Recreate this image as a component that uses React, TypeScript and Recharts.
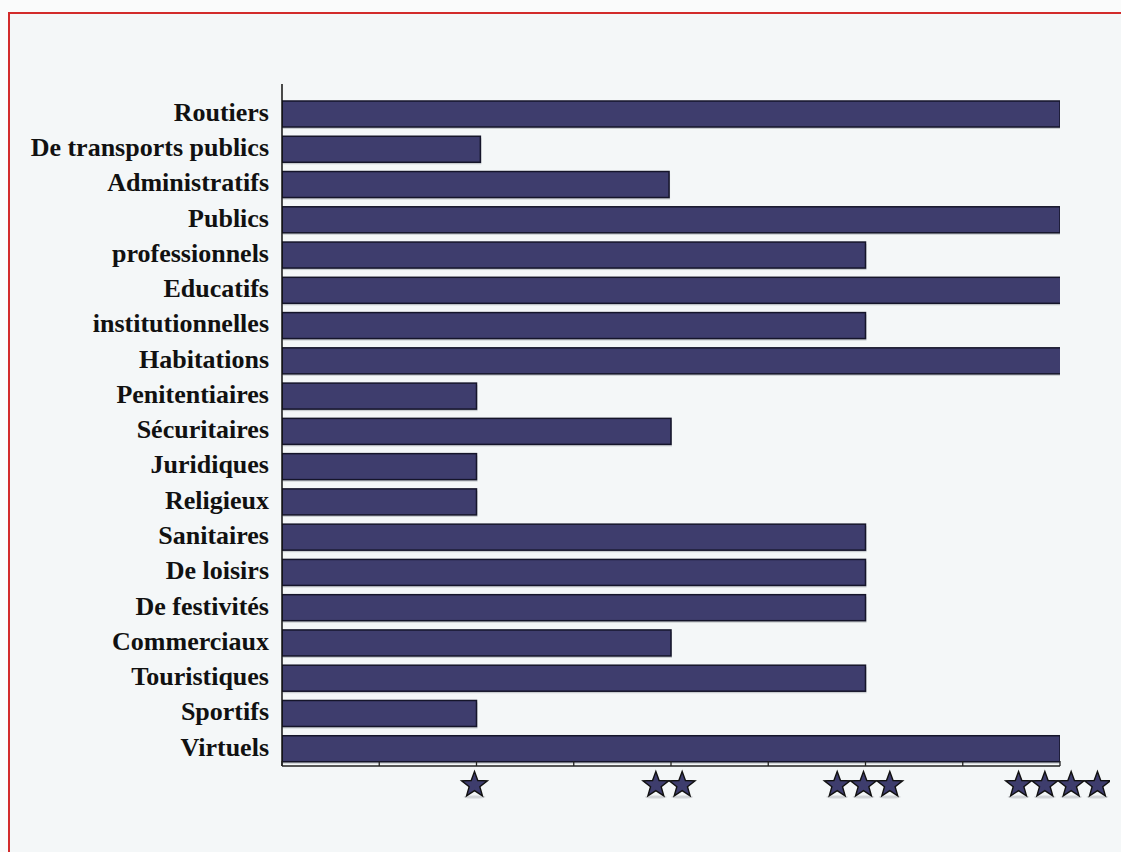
import { Bar, BarChart, XAxis, YAxis } from "recharts";

const categories = [
  "Routiers",
  "De transports publics",
  "Administratifs",
  "Publics",
  "professionnels",
  "Educatifs",
  "institutionnelles",
  "Habitations",
  "Penitentiaires",
  "Sécuritaires",
  "Juridiques",
  "Religieux",
  "Sanitaires",
  "De loisirs",
  "De festivités",
  "Commerciaux",
  "Touristiques",
  "Sportifs",
  "Virtuels",
];

const ratings = [4, 1.02, 1.99, 4, 3, 4.02, 3, 4.02, 1, 2, 1, 1, 3, 3, 3, 2, 3, 1, 4];

const xTicks = [0, 0.5, 1, 1.5, 2, 2.5, 3, 3.5, 4];
const starLabels: Record<number, number> = { 1: 1, 2: 2, 3: 3, 4: 4 };

const data = categories.map((name, i) => ({ name, value: ratings[i] }));

const BAR_FILL = "#3e3d6d";

function starPoints(cx: number, cy: number, outer: number, inner: number) {
  const pts: string[] = [];
  for (let i = 0; i < 10; i++) {
    const r = i % 2 === 0 ? outer : inner;
    const a = -Math.PI / 2 + (i * Math.PI) / 5;
    pts.push(`${(cx + r * Math.cos(a)).toFixed(2)},${(cy + r * Math.sin(a)).toFixed(2)}`);
  }
  return pts.join(" ");
}

function StarTick(props: any) {
  const { x, y, payload } = props;
  const n = starLabels[payload.value] || 0;
  const spacing = 26.3;
  const start = x - 2 - ((n - 1) * spacing) / 2;
  return (
    <g>
      <line x1={x} y1={y - 5} x2={x} y2={y} stroke="#222" strokeWidth={1.3} />
      {Array.from({ length: n }).map((_, i) => (
        <g key={i}>
          <ellipse cx={start + i * spacing} cy={y + 31} rx={11} ry={1.6} fill="#c9cccf" opacity={0.8} />
          <polygon
            points={starPoints(start + i * spacing, y + 19, 13.5, 5.6)}
            fill={BAR_FILL}
            stroke="#111"
            strokeWidth={1.4}
            strokeLinejoin="miter"
          />
        </g>
      ))}
    </g>
  );
}

function ShadowBar(props: any) {
  const { x, y, width, height } = props;
  if (width <= 0) return null;
  return (
    <g>
      <rect x={x + 1} y={y + 2} width={width} height={height} fill="#9ea3a8" opacity={0.5} />
      <rect x={x} y={y} width={width} height={height} fill={BAR_FILL} stroke="#15152a" strokeWidth={1.5} />
    </g>
  );
}

export default function App() {
  return (
    <div
      style={{
        position: "absolute",
        left: 0,
        top: 0,
        width: 1121,
        height: 852,
        overflow: "hidden",
        background: "#fafbfb",
      }}
    >
      <div
        style={{
          position: "absolute",
          left: 8,
          top: 12,
          width: 1200,
          height: 900,
          border: "2px solid #d22b2b",
          background: "#f4f7f8",
        }}
      >
        <BarChart
          width={1100}
          height={830}
          data={data}
          layout="vertical"
          barSize={26}
          margin={{ top: 70, right: 50, bottom: 18, left: 0 }}
        >
          <XAxis
            type="number"
            domain={[0, 4]}
            allowDataOverflow
            ticks={xTicks}
            interval={0}
            allowDecimals
            tickLine={false}
            tickSize={0}
            tickMargin={0}
            height={60}
            axisLine={{ stroke: "#222", strokeWidth: 1.5 }}
            tick={<StarTick />}
          />
          <YAxis
            type="category"
            dataKey="name"
            width={272}
            padding={{ top: 12, bottom: 0 }}
            tickLine={false}
            tickSize={0}
            tickMargin={13}
            interval={0}
            axisLine={{ stroke: "#111", strokeWidth: 1.5 }}
            tick={{
              fill: "#111",
              fontSize: 26,
              fontWeight: 700,
              fontFamily: "'Liberation Serif', 'DejaVu Serif', serif",
              dy: -2,
            }}
          />
          <Bar dataKey="value" shape={<ShadowBar />} isAnimationActive={false} />
        </BarChart>
      </div>
    </div>
  );
}
